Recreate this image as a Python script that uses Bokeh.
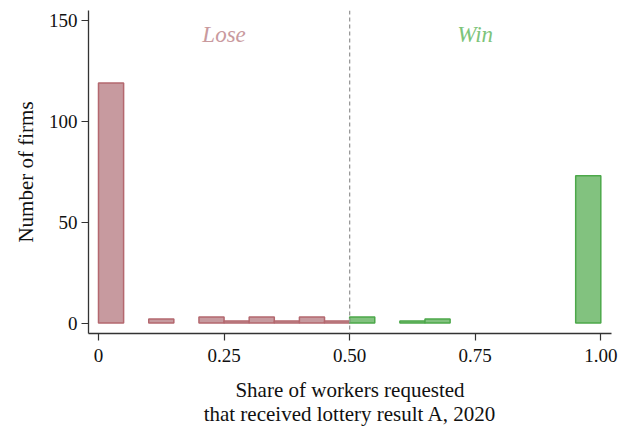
import numpy as np
from bokeh.plotting import figure
from bokeh.models import ColumnDataSource, Span, Label, FixedTicker, Range1d
from bokeh.embed import file_html
from bokeh.resources import INLINE

# ---- data (histogram counts, bin width 0.05) ----
bin_width = 0.05
lose_counts = [119, 0, 2, 0, 3, 1, 3, 1, 3, 1]      # bins 0.00 .. 0.50
win_counts = [3, 0, 1, 2, 0, 0, 0, 0, 0, 73]        # bins 0.50 .. 1.00
x_ticks = [0, 0.25, 0.5, 0.75, 1.0]
x_tick_labels = ["0", "0.25", "0.50", "0.75", "1.00"]
y_ticks = [0, 50, 100, 150]
group_labels = ["Lose", "Win"]
group_label_x = [0.25, 0.75]
x_title = "Share of workers requested\nthat received lottery result A, 2020"
y_title = "Number of firms"

FONT = "Liberation Serif"

def make_source(counts, start):
    lefts, rights, tops = [], [], []
    for i, c in enumerate(counts):
        if c > 0:
            left = start + i * bin_width
            lefts.append(left)
            rights.append(left + bin_width)
            tops.append(c)
    return ColumnDataSource(dict(left=lefts, right=rights, top=tops, bottom=[0] * len(tops)))

lose_src = make_source(lose_counts, 0.0)
win_src = make_source(win_counts, 0.5)

p = figure(width=619, height=430, output_backend="svg", toolbar_location=None,
           x_range=Range1d(-0.0199, 1.0213), y_range=Range1d(-5.16, 155.0),
           min_border_left=88, min_border_right=8, min_border_top=10, min_border_bottom=97)
p.outline_line_color = None
p.xgrid.visible = False
p.ygrid.visible = False
p.background_fill_color = "white"
p.border_fill_color = "white"

p.quad(left="left", right="right", top="top", bottom="bottom", source=lose_src,
       fill_color="#c79a9f", line_color="#b4686f", line_width=1.5)
p.quad(left="left", right="right", top="top", bottom="bottom", source=win_src,
       fill_color="#82c27f", line_color="#4ca84a", line_width=1.5)

p.add_layout(Span(location=0.5, dimension="height", line_color="#999999",
                  line_dash="4 3", line_width=1.3))

colors = ["#c99a9e", "#7dc47a"]
for txt, xx, col in zip(group_labels, group_label_x, colors):
    p.add_layout(Label(x=xx, y=143, text=txt, text_align="center", text_baseline="alphabetic",
                       text_font=FONT, text_font_style="italic", text_font_size="23px",
                       text_color=col))

for ax in (p.xaxis[0], p.yaxis[0]):
    ax.axis_line_color = "#333333"
    ax.axis_line_width = 1.3
    ax.major_tick_line_color = "#333333"
    ax.major_tick_line_width = 1.2
    ax.major_tick_out = 7
    ax.major_tick_in = 0
    ax.minor_tick_line_color = None
    ax.major_label_text_font = FONT
    ax.major_label_text_font_size = "19px"
    ax.major_label_text_color = "#111111"
    ax.axis_label_text_font = FONT
    ax.axis_label_text_font_size = "21px"
    ax.axis_label_text_font_style = "normal"
    ax.axis_label_text_color = "#111111"

p.xaxis.ticker = FixedTicker(ticks=x_ticks)
p.xaxis.major_label_overrides = {t: l for t, l in zip(x_ticks, x_tick_labels)}
p.xaxis.major_label_standoff = 8
p.xaxis.axis_label = x_title
p.xaxis.axis_label_text_line_height = 1.04
p.xaxis.axis_label_standoff = 13

p.yaxis.ticker = FixedTicker(ticks=y_ticks)
p.yaxis.major_label_standoff = 4
p.yaxis.axis_label = y_title
p.yaxis.axis_label_standoff = 8

open("out.html", "w").write(file_html(p, INLINE))
